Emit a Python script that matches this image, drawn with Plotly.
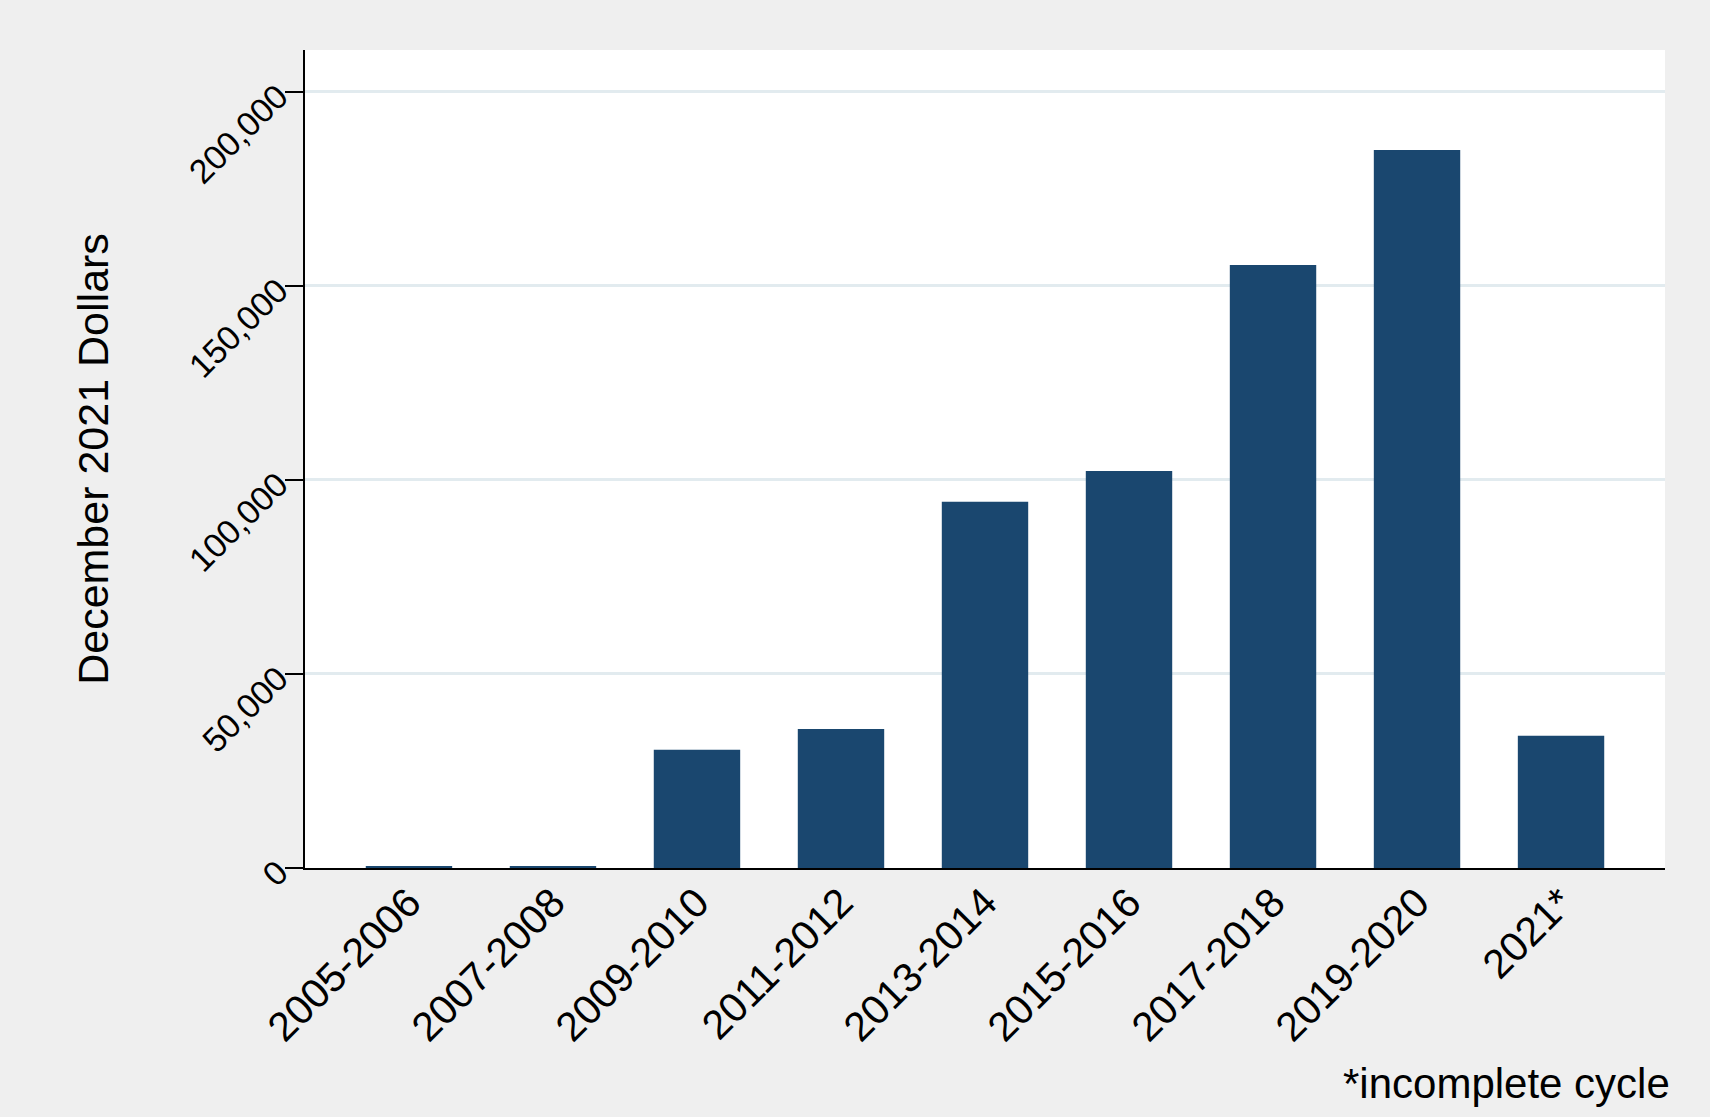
import plotly.graph_objects as go

# election cycles and spending (December 2021 dollars)
cycles = ["2005-2006", "2007-2008", "2009-2010", "2011-2012", "2013-2014",
          "2015-2016", "2017-2018", "2019-2020", "2021*"]
dollars = [300, 450, 30500, 35800, 94400, 102300, 155400, 185000, 34100]

y_ticks = [0, 50000, 100000, 150000, 200000]
y_labels = ["0", "50,000", "100,000", "150,000", "200,000"]

FONT = "Arial, Liberation Sans, sans-serif"
NAVY = "#1a476f"

fig = go.Figure()
fig.add_trace(go.Bar(x=cycles, y=dollars, width=0.6,
                     marker=dict(color=NAVY, line=dict(width=0)),
                     hoverinfo="x+y"))

fig.update_layout(
    width=1710, height=1117,
    margin=dict(l=305, r=45, t=50, b=249),
    paper_bgcolor="#efefef",
    plot_bgcolor="white",
    showlegend=False,
    font=dict(family=FONT, color="black"),
)

fig.update_xaxes(
    type="category",
    range=[-0.722, 8.722],
    tickangle=-45,
    tickfont=dict(size=41, family=FONT, color="black"),
    ticklabelstandoff=-8,
    showline=True, linecolor="black", linewidth=2,
    ticks="", showgrid=False, zeroline=False,
)

fig.update_yaxes(
    range=[0, 210800],
    tickvals=y_ticks, ticktext=y_labels,
    tickangle=-45,
    tickfont=dict(size=34, family=FONT, color="black"),
    ticks="outside", ticklen=18, tickwidth=2, tickcolor="black",
    showline=True, linecolor="black", linewidth=2,
    showgrid=True, gridcolor="#e2ebef", gridwidth=3,
    zeroline=False,
)

# y axis title
fig.add_annotation(text="December 2021 Dollars", textangle=-90,
                   xref="paper", yref="paper", x=-0.156, y=0.5,
                   xanchor="center", yanchor="middle", showarrow=False,
                   font=dict(size=43, family=FONT, color="black"))

# footnote
fig.add_annotation(text="*incomplete cycle",
                   xref="paper", yref="paper", x=1.005, y=-0.263,
                   xanchor="right", yanchor="middle", showarrow=False,
                   font=dict(size=42, family=FONT, color="black"))

# drop the page margin so the figure sits at the window corner
fig.write_html("out.html",
               config={"displayModeBar": False},
               post_script="document.body.style.margin='0';"
                           "document.body.style.overflow='hidden';")
